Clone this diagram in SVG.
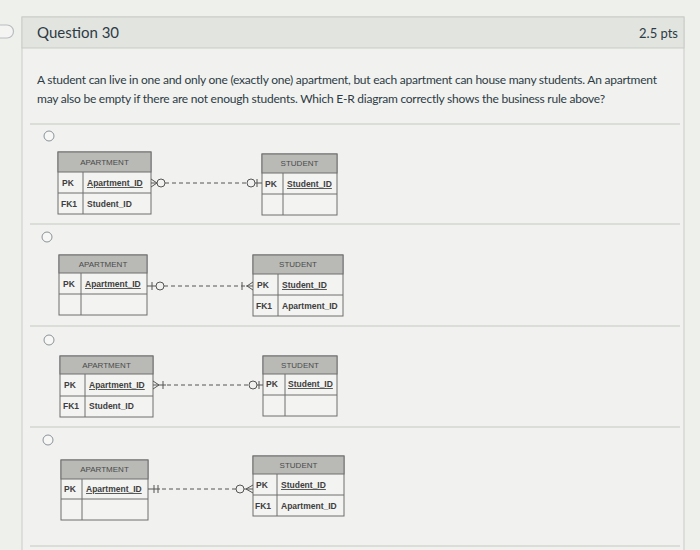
<svg xmlns="http://www.w3.org/2000/svg" width="700" height="550" viewBox="0 0 700 550">
<defs>
<style>
.page{font-family:Lato,"Liberation Sans",sans-serif;fill:#2d3b45}
.tb{fill:#f3f3f1;stroke:#6e6e6e;stroke-width:1}
.hd{fill:#b9bab6;stroke:#6e6e6e;stroke-width:1}
.ln{stroke:#6e6e6e;stroke-width:1;fill:none}
.ht{font-family:"Liberation Sans",Arial,sans-serif;font-size:8px;fill:#4a4a4a;text-anchor:middle}
.ct{font-family:"Liberation Sans",Arial,sans-serif;font-size:8.5px;font-weight:bold;fill:#3e3e3e}
.u{text-decoration:underline}
.sep{stroke:#d3d6d2;stroke-width:1.5}
.radio{fill:#f7f7f5;stroke:#8a9399;stroke-width:1}
.c{stroke:#555;stroke-width:1;fill:none}
.d{stroke:#555;stroke-width:1;stroke-dasharray:4 3;fill:none}
</style>
</defs>
<rect x="0" y="0" width="700" height="550" fill="#eef0ec"/>
<rect x="22" y="17" width="662" height="540" fill="#f1f2ef" stroke="#c9cbc7" stroke-width="1"/>
<rect x="22" y="17" width="662" height="31" fill="#e2e4e0" stroke="#c9cbc7" stroke-width="1"/>
<path d="M0 25 H7 A6 6 0 0 1 7 38 H0" fill="#f4f4f2" stroke="#b9bcc0" stroke-width="1.2"/>
<text class="page" x="37" y="38" font-size="15">Question 30</text>
<text class="page" x="678" y="38" font-size="13" text-anchor="end">2.5 pts</text>
<text class="page" x="37" y="84" font-size="12" textLength="620" lengthAdjust="spacing">A student can live in one and only one (exactly one) apartment, but each apartment can house many students. An apartment</text>
<text class="page" x="37" y="103" font-size="12" textLength="568" lengthAdjust="spacing">may also be empty if there are not enough students. Which E-R diagram correctly shows the business rule above?</text>
<g id="separators">
<line class="sep" x1="30" y1="124" x2="680" y2="124"/>
<line class="sep" x1="30" y1="224" x2="680" y2="224"/>
<line class="sep" x1="30" y1="326" x2="680" y2="326"/>
<line class="sep" x1="30" y1="427" x2="680" y2="427"/>
<line class="sep" x1="30" y1="546" x2="680" y2="546"/>
</g>
<g id="radios">
<circle class="radio" cx="49" cy="136" r="5"/>
<circle class="radio" cx="47" cy="237" r="5"/>
<circle class="radio" cx="49" cy="340" r="5"/>
<circle class="radio" cx="48" cy="440" r="5"/>
</g>
<!-- Option 1 -->
<g id="opt1-apartment">
<rect class="tb" x="58" y="152" width="93" height="62"/>
<rect class="hd" x="58" y="152" width="93" height="20"/>
<line class="ln" x1="58" y1="193" x2="151" y2="193"/>
<line class="ln" x1="83" y1="172" x2="83" y2="214"/>
<text class="ht" x="104.5" y="165">APARTMENT</text>
<text class="ct" x="62" y="186">PK</text>
<text class="ct u" x="87" y="186">Apartment_ID</text>
<text class="ct" x="61" y="207">FK1</text>
<text class="ct" x="87" y="207">Student_ID</text>
</g>
<g id="opt1-student">
<rect class="tb" x="262" y="154" width="75" height="61"/>
<rect class="hd" x="262" y="154" width="75" height="19"/>
<line class="ln" x1="262" y1="194" x2="337" y2="194"/>
<line class="ln" x1="283" y1="173" x2="283" y2="215"/>
<text class="ht" x="299.5" y="166">STUDENT</text>
<text class="ct" x="265" y="187">PK</text>
<text class="ct u" x="287" y="187">Student_ID</text>
</g>
<!-- Option 2 -->
<g id="opt2-apartment">
<rect class="tb" x="59" y="255" width="88" height="60"/>
<rect class="hd" x="59" y="255" width="88" height="18"/>
<line class="ln" x1="59" y1="294" x2="147" y2="294"/>
<line class="ln" x1="81" y1="273" x2="81" y2="315"/>
<text class="ht" x="103" y="267">APARTMENT</text>
<text class="ct" x="63" y="287">PK</text>
<text class="ct u" x="85" y="287">Apartment_ID</text>
</g>
<g id="opt2-student">
<rect class="tb" x="253" y="255" width="90" height="61"/>
<rect class="hd" x="253" y="255" width="90" height="19"/>
<line class="ln" x1="253" y1="295" x2="343" y2="295"/>
<line class="ln" x1="278" y1="274" x2="278" y2="316"/>
<text class="ht" x="298" y="267">STUDENT</text>
<text class="ct" x="257" y="288">PK</text>
<text class="ct u" x="282" y="288">Student_ID</text>
<text class="ct" x="256" y="309">FK1</text>
<text class="ct" x="282" y="309">Apartment_ID</text>
</g>
<!-- Option 3 -->
<g id="opt3-apartment">
<rect class="tb" x="60" y="356" width="93" height="61"/>
<rect class="hd" x="60" y="356" width="93" height="18"/>
<line class="ln" x1="60" y1="396" x2="153" y2="396"/>
<line class="ln" x1="85" y1="374" x2="85" y2="417"/>
<text class="ht" x="106.5" y="368">APARTMENT</text>
<text class="ct" x="64" y="388">PK</text>
<text class="ct u" x="89" y="388">Apartment_ID</text>
<text class="ct" x="63" y="409">FK1</text>
<text class="ct" x="89" y="409">Student_ID</text>
</g>
<g id="opt3-student">
<rect class="tb" x="263" y="356" width="74" height="60"/>
<rect class="hd" x="263" y="356" width="74" height="18"/>
<line class="ln" x1="263" y1="395" x2="337" y2="395"/>
<line class="ln" x1="285" y1="374" x2="285" y2="416"/>
<text class="ht" x="300" y="368">STUDENT</text>
<text class="ct" x="266" y="387">PK</text>
<text class="ct u" x="288" y="387">Student_ID</text>
</g>
<!-- Option 4 -->
<g id="opt4-apartment">
<rect class="tb" x="61" y="460" width="87" height="60"/>
<rect class="hd" x="61" y="460" width="87" height="19"/>
<line class="ln" x1="61" y1="499" x2="148" y2="499"/>
<line class="ln" x1="82" y1="479" x2="82" y2="520"/>
<text class="ht" x="104.5" y="472">APARTMENT</text>
<text class="ct" x="64" y="492">PK</text>
<text class="ct u" x="86" y="492">Apartment_ID</text>
</g>
<g id="opt4-student">
<rect class="tb" x="253" y="456" width="91" height="60"/>
<rect class="hd" x="253" y="456" width="91" height="18"/>
<line class="ln" x1="253" y1="495" x2="344" y2="495"/>
<line class="ln" x1="277" y1="474" x2="277" y2="516"/>
<text class="ht" x="298.5" y="468">STUDENT</text>
<text class="ct" x="256" y="488">PK</text>
<text class="ct u" x="281" y="488">Student_ID</text>
<text class="ct" x="255" y="509">FK1</text>
<text class="ct" x="281" y="509">Apartment_ID</text>
</g>
<g id="connectors">
<!-- 1 -->
<path class="c" d="M151 179 L157 183 L151 187 M151 183 H157"/>
<circle class="c" cx="161" cy="183" r="4"/>
<line class="d" x1="165" y1="183" x2="247" y2="183"/>
<circle class="c" cx="251" cy="183" r="4"/>
<path class="c" d="M255 183 H262 M257 179 V187"/>
<!-- 2 -->
<path class="c" d="M147 286 H156 M152 282 V290"/>
<circle class="c" cx="160" cy="286" r="4"/>
<line class="d" x1="164" y1="286" x2="246" y2="286"/>
<path class="c" d="M242 282 V290 M246 286 H253 M253 282 L247 286 L253 290"/>
<!-- 3 -->
<path class="c" d="M153 381 L159 385 L153 389 M153 385 H166 M163 381 V389"/>
<line class="d" x1="167" y1="385" x2="249" y2="385"/>
<circle class="c" cx="253" cy="385" r="4"/>
<path class="c" d="M257 385 H263 M259 381 V389"/>
<!-- 4 -->
<path class="c" d="M148 489 H160 M154 485 V493 M158 485 V493"/>
<line class="d" x1="162" y1="489" x2="236" y2="489"/>
<circle class="c" cx="240" cy="489" r="4"/>
<path class="c" d="M244 489 H253 M253 485 L246 489 L253 493"/>
</g>
</svg>
